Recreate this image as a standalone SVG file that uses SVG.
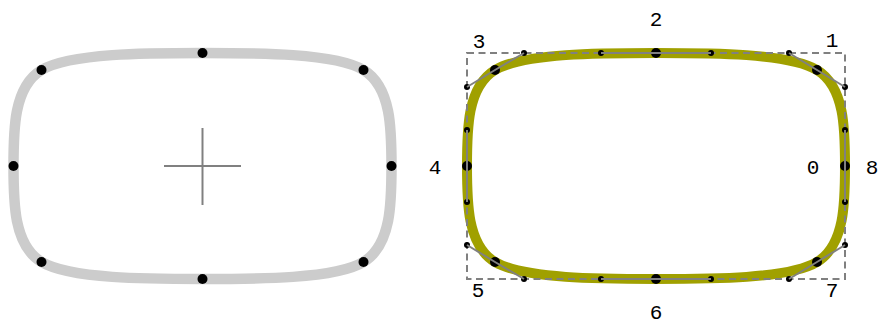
<svg xmlns="http://www.w3.org/2000/svg" width="879" height="323" viewBox="0 0 879 323">
<style>
.lbl{font-family:"Liberation Mono","DejaVu Sans Mono",monospace;font-size:21px;fill:#000;text-anchor:middle;dominant-baseline:central}
.ctl{stroke:#808080;stroke-width:2;fill:none}
.box{stroke:#808080;stroke-width:2;fill:none;stroke-dasharray:7 4.5}
.knot{fill:#000}
</style>
<defs>
<path id="se" d="M 845 166 C 845 130, 845 87, 817 70 C 789 53, 711 53, 656 53 C 601 53, 524 53, 495 70 C 467 87, 467 130, 467 166 C 467 202, 467 245, 495 262 C 524 279, 601 279, 656 279 C 711 279, 789 279, 817 262 C 845 245, 845 202, 845 166 Z"/>
<g id="knots">
<circle cx="845" cy="166" r="5"/><circle cx="817" cy="70" r="5"/><circle cx="656" cy="53" r="5"/><circle cx="495" cy="70" r="5"/>
<circle cx="467" cy="166" r="5"/><circle cx="495" cy="262" r="5"/><circle cx="656" cy="279" r="5"/><circle cx="817" cy="262" r="5"/>
</g>
</defs>
<g id="left-shape" transform="translate(-453.5,0)">
<use href="#se" fill="none" stroke="#cccccc" stroke-width="10.5"/>
<use href="#knots" class="knot"/>
</g>
<g id="cross" class="ctl">
<line x1="164" y1="166" x2="241" y2="166"/>
<line x1="202.5" y1="128" x2="202.5" y2="205"/>
</g>
<g id="right-shape">
<use href="#se" fill="none" stroke="#a0a000" stroke-width="10"/>
<rect class="box" x="467" y="53" width="378" height="226"/>
<use href="#knots" class="knot"/>
<g id="controls" class="knot">
<circle cx="845" cy="130" r="3"/><circle cx="845" cy="87" r="3"/><circle cx="789" cy="53" r="3"/><circle cx="711" cy="53" r="3"/>
<circle cx="601" cy="53" r="3"/><circle cx="524" cy="53" r="3"/><circle cx="467" cy="87" r="3"/><circle cx="467" cy="130" r="3"/>
<circle cx="467" cy="202" r="3"/><circle cx="467" cy="245" r="3"/><circle cx="524" cy="279" r="3"/><circle cx="601" cy="279" r="3"/>
<circle cx="711" cy="279" r="3"/><circle cx="789" cy="279" r="3"/><circle cx="845" cy="245" r="3"/><circle cx="845" cy="202" r="3"/>
</g>
<g id="control-lines" class="ctl">
<polyline points="845,130 845,166 845,202"/>
<polyline points="845,87 817,70 789,53"/>
<polyline points="711,53 656,53 601,53"/>
<polyline points="524,53 495,70 467,87"/>
<polyline points="467,130 467,166 467,202"/>
<polyline points="467,245 495,262 524,279"/>
<polyline points="601,279 656,279 711,279"/>
<polyline points="789,279 817,262 845,245"/>
</g>
</g>
<g id="labels" class="lbl">
<text x="813" y="168">0</text>
<text x="832" y="41">1</text>
<text x="656" y="20">2</text>
<text x="479" y="42">3</text>
<text x="435" y="168">4</text>
<text x="478" y="291">5</text>
<text x="656" y="313">6</text>
<text x="832" y="291">7</text>
<text x="872" y="168">8</text>
</g>
</svg>
